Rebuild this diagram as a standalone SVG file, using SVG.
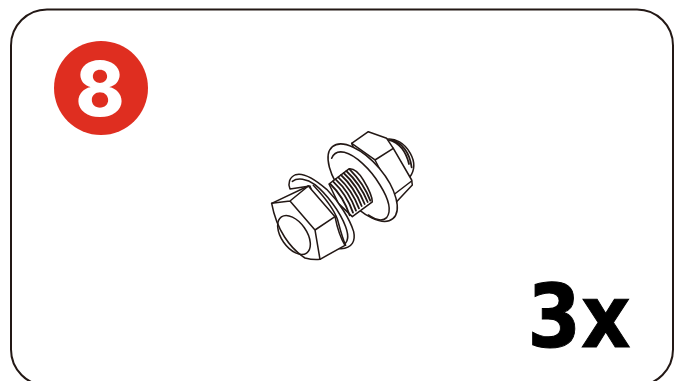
<svg xmlns="http://www.w3.org/2000/svg" width="683" height="381" viewBox="0 0 683 381">
<style>
.l{fill:none;stroke:#231815;stroke-width:4.6;stroke-linejoin:round;stroke-linecap:round}
.t{fill:none;stroke:#231815;stroke-width:5.4;stroke-linecap:round}
.f{fill:#fff;stroke:#231815;stroke-width:4.6;stroke-linejoin:round}
</style>
<rect width="683" height="381" fill="#fff"/>
<rect id="frame" x="11" y="9.5" width="662" height="376" rx="36" ry="36" fill="#fff" stroke="#231815" stroke-width="2"/>
<g id="badge">
<circle cx="101" cy="88" r="47" fill="#df2e20"/>
<text x="100" y="116" font-family="Inter,'Noto Sans',sans-serif" font-weight="800" font-size="76" fill="#fff" text-anchor="middle" textLength="49" lengthAdjust="spacingAndGlyphs">8</text>
</g>
<g id="bolt" transform="translate(255 120) scale(.3333)">
<path class="f" d="M392 58C420 52 450 70 466 100C480 125 480 150 464 172L400 130Z"/>
<path class="t" d="M402 60C430 68 452 90 462 132M412 60C440 68 464 96 470 142"/>
<path class="f" d="M290 70L340 35L395 55L415 85L470 180L472 195L422 248L340 200Z"/>
<path class="l" d="M290 70L360 120L415 85M360 120L415 225L470 183M415 225L423 250"/>
<ellipse class="f" cx="323" cy="188" rx="141" ry="66" transform="rotate(50 323 188)"/>
<path class="l" d="M230 115C236 100 250 93 268 97C300 105 345 145 375 195C400 235 412 270 395 293C385 303 365 302 340 285"/>
<path class="f" d="M222 192L283 146C300 145 312 158 325 180C342 208 352 228 352 246L292 290L250 250Z"/>
<path class="t" d="M226 192C250 215 272 250 284 286M234 184C258 207 282 242 294 278M242 178C266 200 290 235 303 272M250 172C274 194 298 228 312 265M258 165C282 187 306 222 320 258M266 159C290 181 314 215 329 252M274 153C298 175 322 208 338 246M284 148C306 170 332 205 346 242"/>
<path class="f" d="M105 207C98 190 103 172 122 164C145 157 180 178 215 208C252 245 285 298 296 335C302 362 292 385 258 386C245 386 235 383 228 378L165 198Z"/>
<path class="l" d="M112 184C128 172 155 176 180 194C215 222 255 275 272 320C283 350 280 368 262 376"/>
<path class="l" d="M175 196C205 228 235 262 248 300C256 330 262 355 272 376"/>
<path class="f" d="M50 250L160 198L240 290C246 320 254 350 270 376L195 418C180 420 165 418 150 414C105 385 65 330 50 250Z"/>
<path class="l" d="M50 250L105 243L160 198M105 243L180 330L240 290M180 330L195 418"/>
<ellipse class="l" cx="117" cy="345" rx="38" ry="66" transform="rotate(-35 117 345)"/>
</g>
<g id="count">
<text x="579" y="347" font-family="'DejaVu Sans',sans-serif" font-weight="700" font-size="88" fill="#000" stroke="#000" stroke-width="1" text-anchor="middle" textLength="103" lengthAdjust="spacingAndGlyphs">3x</text>
</g>
</svg>
